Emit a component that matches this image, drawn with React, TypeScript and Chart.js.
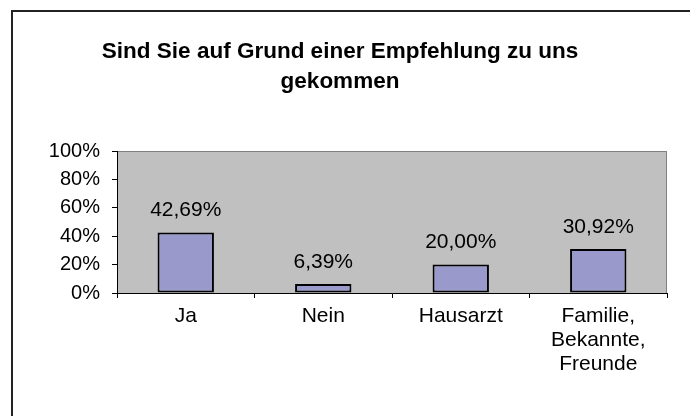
import React, { useEffect, useRef } from "react";
import { Chart, registerables } from "chart.js";

Chart.register(...registerables);

const categories: (string | string[])[] = ["Ja", "Nein", "Hausarzt", ["Familie,", "Bekannte,", "Freunde"]];
const values: number[] = [42.69, 6.39, 20.0, 30.92];
const titleLines: string[] = ["Sind Sie auf Grund einer Empfehlung zu uns", "gekommen"];
const yMin = 0;
const yMax = 100;
const yStep = 20;

const FONT = "'Liberation Sans', Arial, sans-serif";

export default function App() {
  const ref = useRef<HTMLCanvasElement | null>(null);

  useEffect(() => {
    document.body.style.margin = "0";
    if (!ref.current) return;
    const plotBg = {
      id: "plotBg",
      beforeDraw(chart: any) {
        const { ctx, chartArea: a } = chart;
        ctx.save();
        ctx.fillStyle = "#C0C0C0";
        ctx.fillRect(a.left, a.top, a.right - a.left, a.bottom - a.top);
        ctx.strokeStyle = "#808080";
        ctx.lineWidth = 1;
        ctx.strokeRect(a.left + 0.5, a.top + 0.5, a.right - a.left - 1, a.bottom - a.top);
        ctx.restore();
      },
    };
    const dataLabels = {
      id: "dataLabels",
      afterDatasetsDraw(chart: any) {
        const { ctx } = chart;
        const meta = chart.getDatasetMeta(0);
        ctx.save();
        ctx.fillStyle = "#000";
        ctx.font = `21px ${FONT}`;
        ctx.textAlign = "center";
        ctx.textBaseline = "middle";
        meta.data.forEach((bar: any, i: number) => {
          const txt = values[i].toFixed(2).replace(".", ",") + "%";
          ctx.fillText(txt, bar.x, bar.y - 22);
        });
        ctx.restore();
      },
    };
    const chart = new Chart(ref.current, {
      type: "bar",
      data: {
        labels: categories,
        datasets: [
          {
            data: values,
            backgroundColor: "#9999CC",
            borderColor: "#000000",
            borderWidth: 2,
            borderSkipped: false,
            categoryPercentage: 1,
            barPercentage: 0.41,
          },
        ],
      },
      options: {
        responsive: false,
        animation: false,
        devicePixelRatio: 1,
        layout: { padding: { top: 20, left: 0, right: 0, bottom: 0 } },
        plugins: {
          legend: { display: false },
          tooltip: { enabled: false },
          title: {
            display: true,
            text: titleLines,
            color: "#000",
            font: { family: FONT, size: 22.5, weight: "bold", lineHeight: "30px" as any },
            padding: { top: 17, bottom: 54 },
          },
        },
        scales: {
          x: {
            grid: {
              offset: true,
              drawOnChartArea: false,
              drawTicks: true,
              tickLength: 5,
              color: "#000",
            },
            border: { display: true, color: "#000", width: 1 },
            ticks: {
              color: "#000",
              padding: 6,
              maxRotation: 0,
              autoSkip: false,
              font: { family: FONT, size: 21, lineHeight: "24px" as any },
            },
            afterFit(scale: any) {
              scale.height = 123;
            },
          },
          y: {
            min: yMin,
            max: yMax,
            grid: {
              drawOnChartArea: false,
              drawTicks: true,
              tickLength: 5,
              color: "#000",
            },
            border: { display: true, color: "#000", width: 1 },
            ticks: {
              stepSize: yStep,
              color: "#000",
              padding: 12,
              font: { family: FONT, size: 20 },
              callback: (v: any) => `${v}%`,
            },
            afterFit(scale: any) {
              scale.width = 117;
            },
          },
          yRight: {
            position: "right",
            display: true,
            min: yMin,
            max: yMax,
            grid: { display: false, drawTicks: false },
            border: { display: false },
            ticks: { display: false },
            afterFit(scale: any) {
              scale.width = 13;
            },
          },
        },
      },
      plugins: [plotBg, dataLabels],
    });
    return () => chart.destroy();
  }, []);

  return (
    <div style={{ position: "fixed", left: 0, top: 0, width: 690, height: 416, overflow: "hidden", background: "#fff" }}>
      <div style={{ position: "absolute", left: 11, top: 10, width: 679, height: 2, background: "#222" }} />
      <div style={{ position: "absolute", left: 11, top: 10, width: 2, height: 406, background: "#222" }} />
      <canvas ref={ref} width={680} height={416} style={{ position: "absolute", left: 0, top: 0 }} />
    </div>
  );
}
